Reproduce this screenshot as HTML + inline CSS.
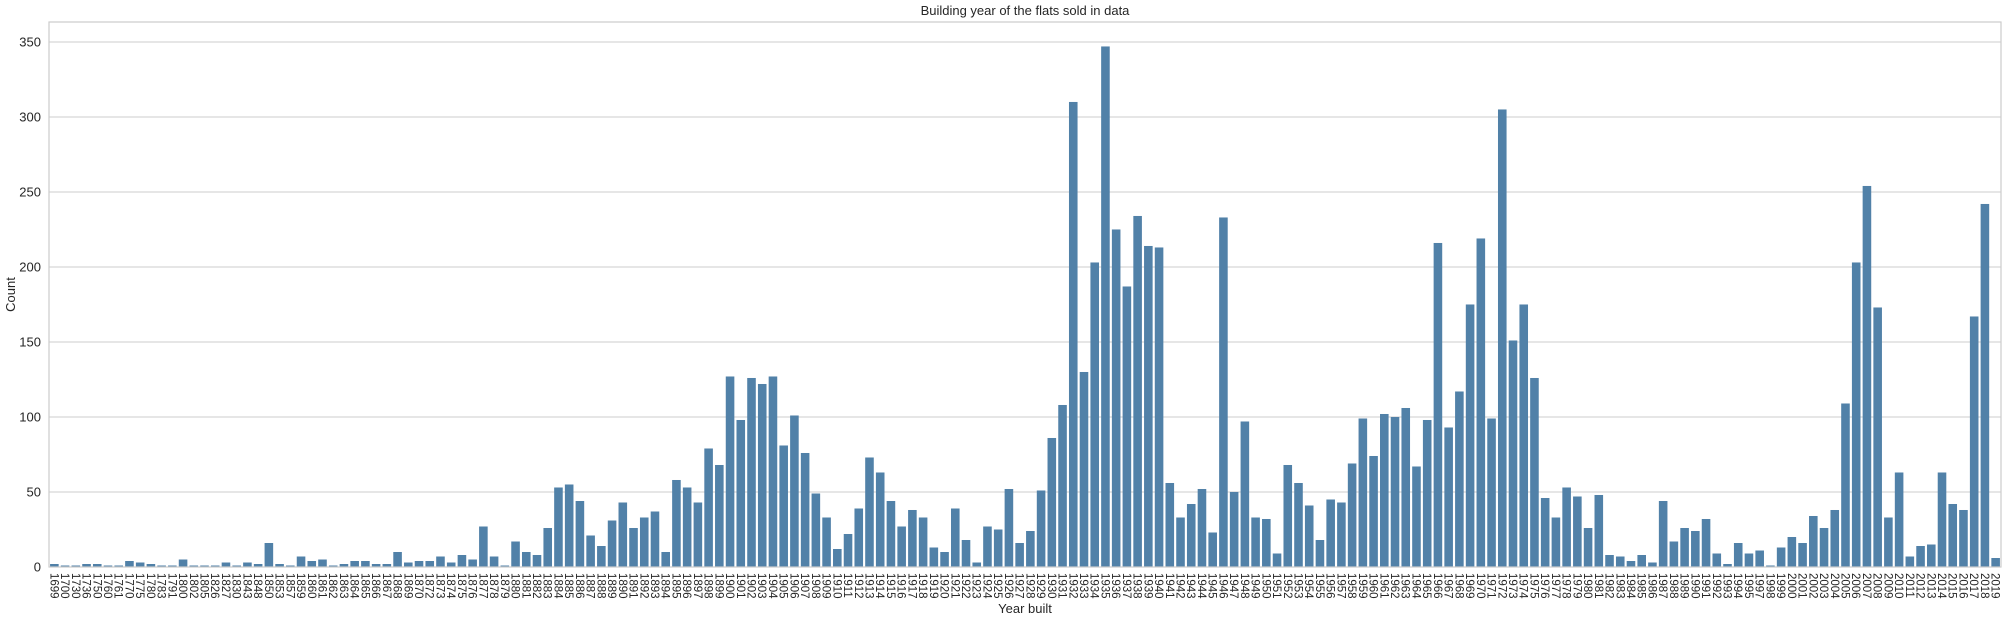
<!DOCTYPE html>
<html><head><meta charset="utf-8"><style>
html,body{margin:0;padding:0;background:#fff;}
svg{display:block;font-family:"Liberation Sans",sans-serif;}
</style></head><body>
<svg id="chart" width="2009" height="620"></svg>
<script>
const years = [1699,1700,1730,1736,1750,1760,1761,1770,1775,1780,1783,1791,1800,1802,1805,1826,1827,1830,1843,1848,1850,1853,1857,1859,1860,1861,1862,1863,1864,1865,1866,1867,1868,1869,1870,1872,1873,1874,1875,1876,1877,1878,1879,1880,1881,1882,1883,1884,1885,1886,1887,1888,1889,1890,1891,1892,1893,1894,1895,1896,1897,1898,1899,
1900,1901,1902,1903,1904,1905,1906,1907,1908,1909,1910,1911,1912,1913,1914,1915,1916,1917,1918,1919,1920,1921,1922,1923,1924,1925,1926,1927,1928,1929,1930,1931,1932,1933,1934,1935,1936,1937,1938,1939,1940,1941,1942,1943,1944,1945,1946,1947,1948,1949,1950,1951,1952,1953,1954,1955,1956,1957,1958,1959,1960,1961,1962,1963,1964,1965,1966,1967,1968,1969,1970,1971,1972,1973,1974,1975,1976,1977,1978,1979,1980,1981,1982,1983,1984,1985,1986,1987,1988,1989,1990,1991,1992,1993,1994,1995,1997,1998,1999,2000,2001,2002,2003,2004,2005,2006,2007,2008,2009,2010,2011,2012,2013,2014,2015,2016,2017,2018,2019];
const counts = [2,1,1,2,2,1,1,4,3,2,1,1,5,1,1,1,3,1,3,2,16,2,1,7,4,5,1,2,4,4,2,2,10,3,4,4,7,3,8,5,27,7,1,17,10,8,26,53,55,44,21,14,31,43,26,33,37,10,58,53,43,79,68,
127,98,126,122,127,81,101,76,49,33,12,22,39,73,63,44,27,38,33,13,10,39,18,3,27,25,52,16,24,51,86,108,310,130,203,347,225,187,234,214,213,56,33,42,52,23,233,50,97,33,32,9,68,56,41,18,45,43,69,99,74,102,100,106,67,98,216,93,117,175,219,99,305,151,175,126,46,33,53,47,26,48,8,7,4,8,3,44,17,26,24,32,9,2,16,9,11,1,13,20,16,34,26,38,109,203,254,173,33,63,7,14,15,63,42,38,167,242,6];
const yTicks = [0,50,100,150,200,250,300,350];

const NS="http://www.w3.org/2000/svg";
const svg=document.getElementById('chart');
const L=49,R=2001,T=22,B=567,YMAX=363.3;
const band=(R-L)/years.length;
function xPos(i){return L+i*band;}
function yPos(v){return B-(v/YMAX)*(B-T);}
function mk(tag,attrs,parent){const e=document.createElementNS(NS,tag);for(const k in attrs)e.setAttribute(k,attrs[k]);(parent||svg).appendChild(e);return e;}

// gridlines + y ticks
yTicks.forEach(t=>{
  const g=mk('line',{x1:L,x2:R,y1:yPos(t),y2:yPos(t),stroke:'#cccccc','stroke-width':1});
  
  
  const tx=mk('text',{x:L-8,y:yPos(t)+4.5,'text-anchor':'end','font-size':13,fill:'#262626'});
  tx.textContent=t;
  
  
});
// bars
years.forEach((yr,i)=>{
  const w=band*0.8;
  const r=mk('rect',{x:xPos(i)+band*0.1,y:yPos(counts[i]),width:w,height:B-yPos(counts[i]),fill:'#5181a8'});
  
  
  const t=mk('text',{transform:`translate(${xPos(i)+band/2-4},${B+6}) rotate(90)`,'font-size':11.5,fill:'#262626'});
  t.textContent=yr;
  
  
});
// frame
const fr=mk('rect',{x:L,y:T,width:R-L,height:B-T,fill:'none',stroke:'#cccccc','stroke-width':1.2});


// titles
const ti=mk('text',{x:(L+R)/2,y:15,'text-anchor':'middle','font-size':13,fill:'#262626'});
ti.textContent='Building year of the flats sold in data';


const xl=mk('text',{x:(L+R)/2,y:613,'text-anchor':'middle','font-size':13,fill:'#262626'});
xl.textContent='Year built';


const yl=mk('text',{transform:`translate(15,${(T+B)/2}) rotate(-90)`,'text-anchor':'middle','font-size':13,fill:'#262626'});
yl.textContent='Count';


</script>
</body></html>
